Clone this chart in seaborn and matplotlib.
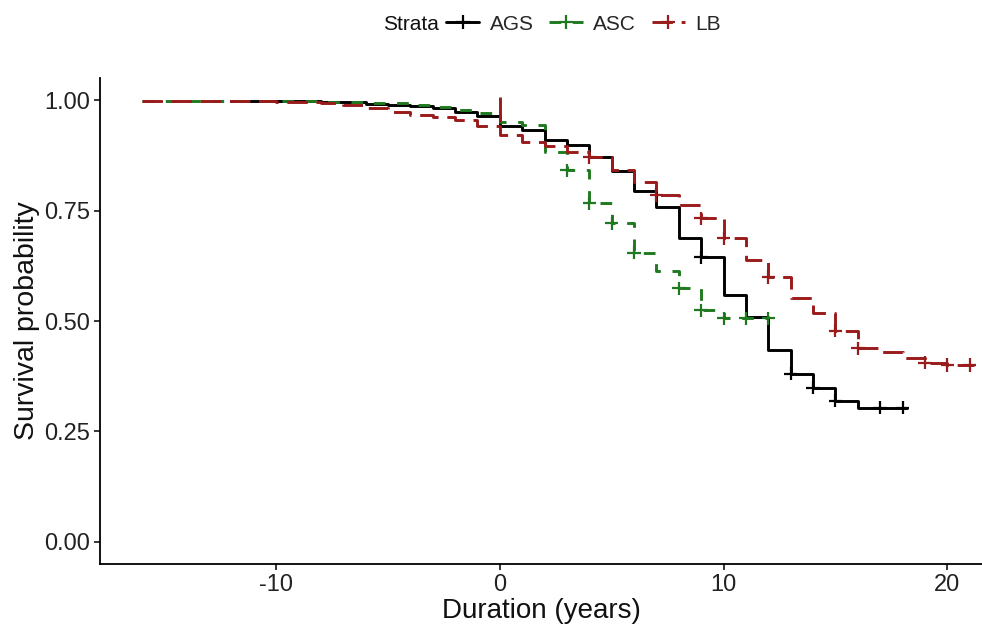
import numpy as np
import pandas as pd
import matplotlib
matplotlib.use("Agg")
import matplotlib.pyplot as plt
import seaborn as sns
from matplotlib.lines import Line2D

# ---------------- data ----------------
strata = ["AGS", "ASC", "LB"]

ags_time = [-12, -8, -6, -5, -4, -3, -2, -1, 0, 1, 2, 3, 4, 5, 6, 7, 8, 9, 10,
            11, 12, 13, 14, 15, 16, 18.2]
ags_surv = [0.997, 0.995, 0.992, 0.989, 0.986, 0.982, 0.973, 0.964, 0.942, 0.932,
            0.909, 0.898, 0.871, 0.839, 0.794, 0.757, 0.687, 0.644, 0.558, 0.508,
            0.435, 0.381, 0.349, 0.320, 0.304, 0.304]

asc_time = [-16, -8, -6, -4, -3, -2, -1, 0, 1, 2, 3, 4, 5, 6, 7, 8, 9, 10, 12]
asc_surv = [0.998, 0.996, 0.993, 0.989, 0.985, 0.978, 0.970, 0.950, 0.943, 0.882,
            0.841, 0.766, 0.721, 0.655, 0.614, 0.574, 0.524, 0.506, 0.506]

lb_time = [-16, -10, -8, -7, -6, -5, -4, -3, -2, -1, 0, 1, 2, 3, 4, 5, 6, 7, 8, 9,
           10, 11, 12, 13, 14, 15, 16, 17, 18, 19, 20, 21.2]
lb_surv = [0.998, 0.996, 0.993, 0.988, 0.982, 0.973, 0.966, 0.961, 0.955, 0.941,
           0.921, 0.905, 0.896, 0.882, 0.871, 0.841, 0.814, 0.785, 0.762, 0.732,
           0.687, 0.637, 0.599, 0.551, 0.517, 0.478, 0.438, 0.429, 0.417, 0.406,
           0.401, 0.401]

# censoring marks
ags_cens_time = [9, 13, 14, 15, 17, 18]
ags_cens_surv = [0.644, 0.381, 0.349, 0.320, 0.304, 0.304]
asc_cens_time = [3, 4, 5, 6, 8, 9, 10, 11, 12]
asc_cens_surv = [0.841, 0.766, 0.721, 0.655, 0.574, 0.524, 0.506, 0.506, 0.506]
lb_cens_time = [4, 7, 9, 10, 12, 15, 16, 19, 20, 21]
lb_cens_surv = [0.871, 0.785, 0.732, 0.687, 0.599, 0.478, 0.438, 0.406, 0.401, 0.401]

# the tall LB mark at time 0
lb_spike_time = 0
lb_spike_low, lb_spike_high = 0.950, 1.006

x_ticks = [-10, 0, 10, 20]
y_ticks = [0.00, 0.25, 0.50, 0.75, 1.00]

# ---------------- build tables ----------------
curves = pd.concat([
    pd.DataFrame({"time": ags_time, "surv": ags_surv, "Strata": "AGS"}),
    pd.DataFrame({"time": asc_time, "surv": asc_surv, "Strata": "ASC"}),
    pd.DataFrame({"time": lb_time, "surv": lb_surv, "Strata": "LB"}),
], ignore_index=True)
cens = pd.concat([
    pd.DataFrame({"time": ags_cens_time, "surv": ags_cens_surv, "Strata": "AGS"}),
    pd.DataFrame({"time": asc_cens_time, "surv": asc_cens_surv, "Strata": "ASC"}),
    pd.DataFrame({"time": lb_cens_time, "surv": lb_cens_surv, "Strata": "LB"}),
], ignore_index=True)

palette = {"AGS": "#000000", "ASC": "#1f7a1f", "LB": "#9a1b1b"}
dashes = {"AGS": "", "ASC": (4, 4), "LB": (7, 3)}

sns.set_theme(style="white")
plt.rcParams["font.family"] = ["Liberation Sans", "DejaVu Sans"]

fig = plt.figure(figsize=(9.82, 6.28), dpi=100)
ax = fig.add_axes([100 / 982, 64 / 628, 882 / 982, 486 / 628])

LW = 2.1
sns.lineplot(data=curves, x="time", y="surv", hue="Strata", style="Strata",
             palette=palette, dashes=dashes, drawstyle="steps-post",
             estimator=None, sort=False, linewidth=LW, legend=False, ax=ax)
sns.scatterplot(data=cens, x="time", y="surv", hue="Strata", palette=palette,
                marker="+", s=95, linewidth=1.6, legend=False, ax=ax, zorder=5)
ax.vlines(lb_spike_time, lb_spike_low, lb_spike_high, color=palette["LB"],
          linewidth=LW, zorder=4)

ax.set_xlim(-17.87, 21.55)
ax.set_ylim(-0.05, 1.05)
ax.set_xticks(x_ticks)
ax.set_xticklabels([str(v) for v in x_ticks])
ax.set_yticks(y_ticks)
ax.set_yticklabels([f"{v:.2f}" for v in y_ticks])
ax.tick_params(axis="both", direction="out", length=4, width=1.1, color="black",
               labelsize=17, labelcolor="#222222", bottom=True, left=True, pad=3)
for s in ["top", "right"]:
    ax.spines[s].set_visible(False)
for s in ["left", "bottom"]:
    ax.spines[s].set_color("black")
    ax.spines[s].set_linewidth(1.3)
ax.grid(False)
ax.set_xlabel("Duration (years)", fontsize=20, color="#111111", labelpad=2)
ax.set_ylabel("Survival probability", fontsize=20.5, color="#111111", labelpad=3)

# legend on top
fig.text(383 / 982, 1 - 24 / 628, "Strata", fontsize=15, va="center", ha="left",
         color="#111111")
handles = [
    Line2D([0], [0], color=palette["AGS"], lw=LW, ls="-", marker="+",
           markersize=10, markeredgewidth=1.6),
    Line2D([0], [0], color=palette["ASC"], lw=LW, dashes=dashes["ASC"], marker="+",
           markersize=10, markeredgewidth=1.6),
    Line2D([0], [0], color=palette["LB"], lw=LW, dashes=dashes["LB"], marker="+",
           markersize=10, markeredgewidth=1.6),
]
fig.legend(handles, strata, loc="center left", bbox_to_anchor=(446 / 982, 1 - 24 / 628),
           ncol=3, frameon=False, fontsize=15, handlelength=1.6, handletextpad=0.5,
           columnspacing=0.75, borderpad=0, borderaxespad=0, numpoints=1)

fig.savefig("out.png", dpi=100)
